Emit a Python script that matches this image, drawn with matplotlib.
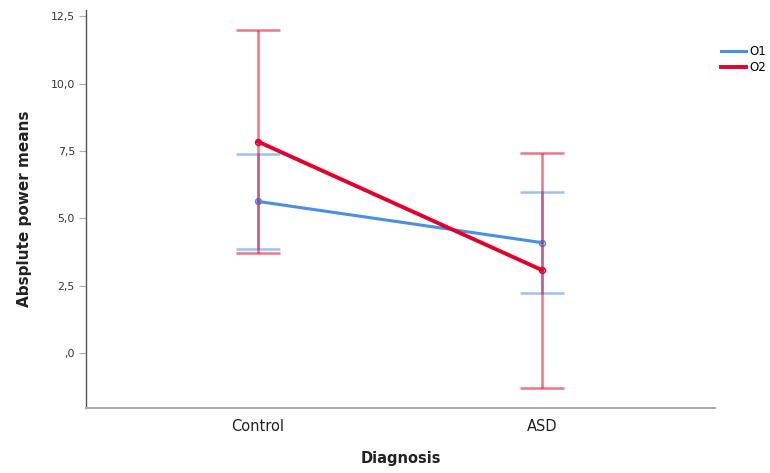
import matplotlib
matplotlib.use("Agg")
import matplotlib.pyplot as plt
import numpy as np
from matplotlib.lines import Line2D
from matplotlib.ticker import FuncFormatter

# group means with 95% CI bounds, per condition
groups = ["Control", "ASD"]
o1_mean = [5.63, 4.10]
o1_low = [3.85, 2.22]
o1_high = [7.41, 5.97]
o2_mean = [7.85, 3.08]
o2_low = [3.70, -1.31]
o2_high = [12.00, 7.44]

yticks = [0.0, 2.5, 5.0, 7.5, 10.0, 12.5]

BLUE = "#4a8fe7"
RED = "#e4002b"

fig = plt.figure(figsize=(7.7, 4.73), dpi=100)
ax = fig.add_axes([0.1117, 0.1374, 0.8169, 0.8415])
x = np.arange(len(groups))

def draw(mean, lo, hi, color, lw, z):
    m = np.array(mean); l = np.array(lo); h = np.array(hi)
    ax.errorbar(x, m, yerr=[m - l, h - m], fmt="none", ecolor=color, elinewidth=1.8,
                capsize=15.5, capthick=1.8, alpha=0.55, zorder=z)
    ax.plot(x, m, color=color, lw=lw, zorder=z + 1,
            marker="o", ms=4.2, mfc="none", mec=color, mew=1.1)

draw(o1_mean, o1_low, o1_high, BLUE, 2.2, 2)
draw(o2_mean, o2_low, o2_high, RED, 2.8, 4)

ax.set_xlim(-0.606, 1.609)
ax.set_ylim(-2.04, 12.74)
ax.set_xticks(x)
ax.set_xticklabels(groups, fontsize=10.5, color="#222222")
ax.tick_params(axis="x", length=0, pad=8)
ax.set_yticks(yticks)
ax.yaxis.set_major_formatter(FuncFormatter(
    lambda v, _: ",0" if v == 0 else f"{v:.1f}".replace(".", ",")))
ax.tick_params(axis="y", labelsize=7.8, length=5, color="#aaaaaa", labelcolor="#333333", pad=3)

for s in ["top", "right"]:
    ax.spines[s].set_visible(False)
ax.spines["left"].set_color("#555555")
ax.spines["bottom"].set_color("#aaaaaa")
ax.spines["left"].set_linewidth(1.0)
ax.spines["bottom"].set_linewidth(1.4)

ax.set_ylabel("Absplute power means", fontsize=11, fontweight="bold", color="#222222", labelpad=13)
ax.set_xlabel("Diagnosis", fontsize=10.5, fontweight="bold", color="#222222", labelpad=12)

handles = [Line2D([], [], color=BLUE, lw=2.2), Line2D([], [], color=RED, lw=2.8)]
fig.legend(handles, ["O1", "O2"], loc="upper left", bbox_to_anchor=(0.930, 0.915),
           frameon=False, fontsize=8.5, handlelength=2.1, handletextpad=0.3,
           labelspacing=0.3, borderaxespad=0)

fig.savefig("out.png", dpi=100)
